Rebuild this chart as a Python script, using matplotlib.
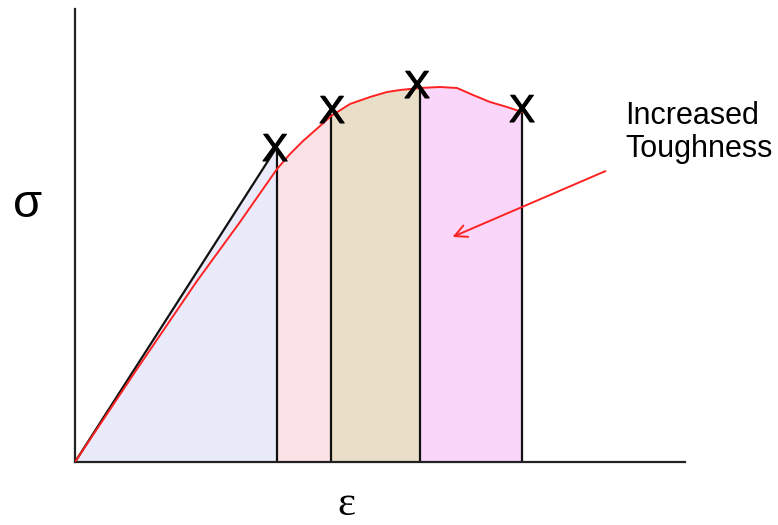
import numpy as np
import matplotlib
matplotlib.use('Agg')
import matplotlib.pyplot as plt
import matplotlib.patheffects as pe

# stress-strain curve (arbitrary units)
strain = [0, 60, 122, 165, 202, 215, 228, 245, 256, 275, 295, 312, 325, 345,
          365, 382, 398, 415, 432, 447]
stress = [0, 90, 181, 240, 293, 308, 321, 336, 346, 358, 365, 370, 372, 374,
          375, 374, 367, 360, 355, 350]

# straight elastic line and the fracture points (X marks)
elastic_strain = [0, 200]
elastic_stress = [0, 312]
fracture_strain = [200, 257, 342, 447]
fracture_stress = [311, 349, 374, 350]

# vertical dividing lines
cut_strain = [202, 256, 345, 447]
cut_top = [310, 347, 374, 352]

fill_colors = ['#e9ebfb', '#fbe2e7', '#e9dfc8', '#fad6fa']

fig = plt.figure(figsize=(7.78, 5.25), dpi=100)
ax = fig.add_axes([75/778, 63/525, 610/778, 453/525])
ax.set_xlim(0, 610)
ax.set_ylim(0, 453)

s = np.array(strain, dtype=float)
t = np.array(stress, dtype=float)

# blue region under the elastic line
ax.fill([0, elastic_strain[1], cut_strain[0], cut_strain[0]],
        [0, elastic_stress[1], cut_top[0], 0], color=fill_colors[0], lw=0, zorder=1)
# the other regions under the red curve
for i in range(3):
    m = (s >= cut_strain[i]) & (s <= cut_strain[i + 1])
    ax.fill_between(s[m], 0, t[m], color=fill_colors[i + 1], lw=0, zorder=1)

for x, top in zip(cut_strain, cut_top):
    ax.plot([x, x], [0, top], color='#111111', lw=1.6, zorder=2)

ax.plot(elastic_strain, elastic_stress, color='#111111', lw=1.6, zorder=3)
ax.plot(strain, stress, color='#ff2222', lw=1.4, zorder=4)

for x, y in zip(fracture_strain, fracture_stress):
    ax.text(x, y, 'X', fontsize=28, family='Liberation Sans', ha='center', va='center',
            color='black', zorder=5,
            path_effects=[pe.withStroke(linewidth=0.8, foreground='black')])

# annotation
ax.annotate('', xy=(375, 224), xytext=(533, 292),
            arrowprops=dict(arrowstyle='->', color='#ff2222', lw=1.4,
                            mutation_scale=22))
ax.text(550, 305, 'Increased\nToughness', fontsize=22, family='Liberation Sans',
        ha='left', va='baseline', linespacing=1.13, color='black')

# axis symbols
ax.text(-47, 257, 'σ', fontsize=34, family='Liberation Sans', ha='center', va='center',
        clip_on=False)
ax.text(271, -43, 'ε', fontsize=31, family='Liberation Serif', ha='center', va='center',
        clip_on=False)

for side in ['top', 'right']:
    ax.spines[side].set_visible(False)
for side in ['left', 'bottom']:
    ax.spines[side].set_linewidth(1.6)
    ax.spines[side].set_color('#222222')
ax.set_xticks([])
ax.set_yticks([])

fig.savefig('out.png', dpi=100)
